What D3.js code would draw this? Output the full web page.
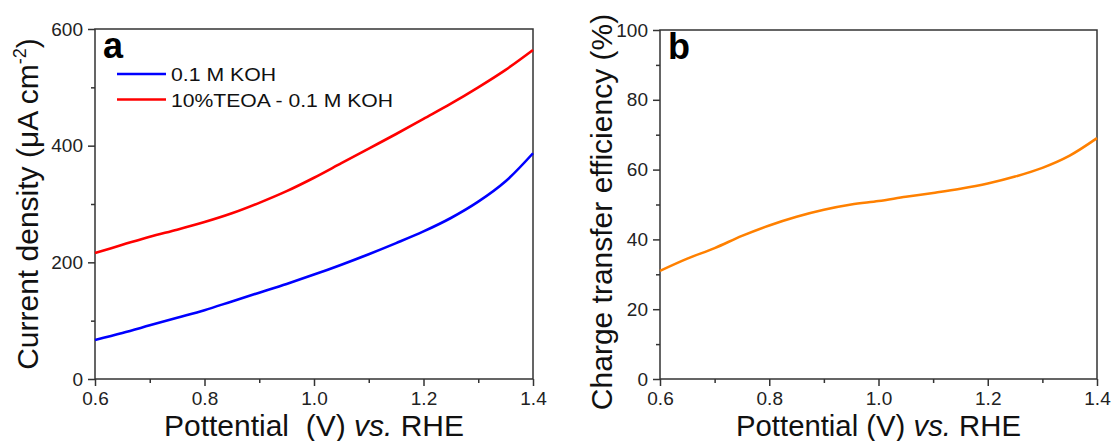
<!DOCTYPE html>
<html>
<head>
<meta charset="utf-8">
<script src="https://cdn.jsdelivr.net/npm/d3@7"></script>
<style>
  body { margin: 0; background: #fff; }
  svg { display: block; font-family: Arial, "Liberation Sans", sans-serif; }
</style>
</head>
<body>
<svg id="chart" width="1113" height="441"></svg>
<script>
var width = 1113;
var height = 441;

// potential (V vs. RHE), shared by both panels
var potential = [0.6, 0.65, 0.7, 0.75, 0.8, 0.85, 0.9, 0.95, 1.0, 1.05, 1.1, 1.15, 1.2, 1.25, 1.3, 1.35, 1.4];

// panel a: current density (uA cm-2)
var kohCurrent = [67, 79, 92, 105, 118, 133, 148, 163, 179, 196, 214, 233, 253, 276, 304, 339, 387];
var teoaCurrent = [216, 230, 244, 256, 269, 284, 302, 322, 345, 370, 395, 420, 446, 472, 500, 530, 564];

// panel b: charge transfer efficiency (%)
var efficiency = [31, 34.5, 37.5, 41, 44, 46.5, 48.5, 50, 51, 52.2, 53.3, 54.5, 56, 58, 60.5, 64, 69];

var xTicks = [0.6, 0.8, 1.0, 1.2, 1.4];
var xMinor = [0.7, 0.9, 1.1, 1.3];
var yTicksA = [0, 200, 400, 600];
var yMinorA = [100, 300, 500];
var yTicksB = [0, 20, 40, 60, 80, 100];
var yMinorB = [10, 30, 50, 70, 90];

var legendNames = ["0.1 M KOH", "10%TEOA - 0.1 M KOH"];

var svg = d3.select("#chart");
svg.append("rect").attr("width", width).attr("height", height).attr("fill", "#fff");

var axisColor = "#333";

function drawPanel(opt) {
  var x = d3.scaleLinear().domain([0.6, 1.4]).range([opt.left, opt.right]);
  var y = d3.scaleLinear().domain(opt.yDomain).range([opt.bottom, opt.top]);

  var g = svg.append("g");

  // frame
  g.append("rect")
    .attr("x", opt.left)
    .attr("y", opt.top)
    .attr("width", opt.right - opt.left)
    .attr("height", opt.bottom - opt.top)
    .attr("fill", "none")
    .attr("stroke", axisColor)
    .attr("stroke-width", 1.5);

  // curves
  var line = d3.line()
    .x(function (d) { return x(d[0]); })
    .y(function (d) { return y(d[1]); })
    .curve(d3.curveCatmullRom);

  opt.series.forEach(function (s) {
    g.append("path")
      .datum(potential.map(function (p, i) { return [p, s.values[i]]; }))
      .attr("d", line)
      .attr("fill", "none")
      .attr("stroke", s.color)
      .attr("stroke-width", 2.6);
  });

  // x axis
  g.append("g")
    .attr("transform", "translate(0," + opt.bottom + ")")
    .call(d3.axisBottom(x).tickValues(xTicks).tickSize(7).tickPadding(6)
      .tickFormat(d3.format(".1f")));
  g.append("g")
    .attr("transform", "translate(0," + opt.bottom + ")")
    .call(d3.axisBottom(x).tickValues(xMinor).tickSize(4).tickFormat(""));

  // y axis
  g.append("g")
    .attr("transform", "translate(" + opt.left + ",0)")
    .call(d3.axisLeft(y).tickValues(opt.yTicks).tickSize(7).tickPadding(5));
  g.append("g")
    .attr("transform", "translate(" + opt.left + ",0)")
    .call(d3.axisLeft(y).tickValues(opt.yMinor).tickSize(4).tickFormat(""));

  g.selectAll(".domain").remove();
  g.selectAll(".tick line").attr("stroke", axisColor).attr("stroke-width", 1.5);
  g.selectAll(".tick text")
    .attr("fill", "#222")
    .style("font-size", "19px")
    .style("font-family", "Arial, 'Liberation Sans', sans-serif");

  // panel letter
  g.append("text")
    .attr("x", opt.left + 8)
    .attr("y", opt.top + 29)
    .attr("font-size", 36)
    .attr("font-weight", "bold")
    .attr("fill", "#000")
    .text(opt.letter);

  // x title
  var xt = g.append("text")
    .attr("x", (opt.left + opt.right) / 2)
    .attr("y", 436)
    .attr("text-anchor", "middle")
    .attr("font-size", 29)
    .attr("fill", "#111")
    .attr("textLength", opt.xTitleLen)
    .attr("lengthAdjust", "spacingAndGlyphs")
    .attr("xml:space", "preserve");
  xt.append("tspan").text(opt.xTitle);
  xt.append("tspan").attr("font-style", "italic").text("vs.");
  xt.append("tspan").text(" RHE");

  return { x: x, y: y, g: g };
}

// panel a
var pa = drawPanel({
  left: 95, right: 533, top: 29, bottom: 379,
  yDomain: [0, 600], yTicks: yTicksA, yMinor: yMinorA,
  letter: "a",
  xTitle: "Pottential  (V) ",
  xTitleLen: 300,
  series: [
    { values: kohCurrent, color: "#0000ff" },
    { values: teoaCurrent, color: "#ff0000" }
  ]
});

var yta = pa.g.append("text")
  .attr("transform", "translate(38,204) rotate(-90)")
  .attr("text-anchor", "middle")
  .attr("font-size", 30)
  .attr("fill", "#111");
yta.append("tspan").text("Current density (\u03bcA cm");
yta.append("tspan").attr("font-size", 18).attr("dy", -12).text("-2");
yta.append("tspan").attr("dy", 12).text(")");

// legend
var legendColors = ["#0000ff", "#ff0000"];
var legendLens = [105, 222];
legendNames.forEach(function (name, i) {
  var ly = 74 + i * 25.5;
  pa.g.append("line")
    .attr("x1", 117).attr("x2", 166)
    .attr("y1", ly).attr("y2", ly)
    .attr("stroke", legendColors[i])
    .attr("stroke-width", 2.6);
  pa.g.append("text")
    .attr("x", 171)
    .attr("y", ly + 7)
    .attr("font-size", 19)
    .attr("fill", "#111")
    .attr("textLength", legendLens[i])
    .attr("lengthAdjust", "spacingAndGlyphs")
    .text(name);
});

// panel b
var pb = drawPanel({
  left: 660, right: 1097, top: 30, bottom: 379,
  yDomain: [0, 100], yTicks: yTicksB, yMinor: yMinorB,
  letter: "b",
  xTitle: "Pottential (V) ",
  xTitleLen: 285,
  series: [
    { values: efficiency, color: "#ff8000" }
  ]
});

pb.g.append("text")
  .attr("transform", "translate(612,212) rotate(-90)")
  .attr("text-anchor", "middle")
  .attr("font-size", 30)
  .attr("fill", "#111")
  .text("Charge transfer efficiency (%)");
</script>
</body>
</html>
